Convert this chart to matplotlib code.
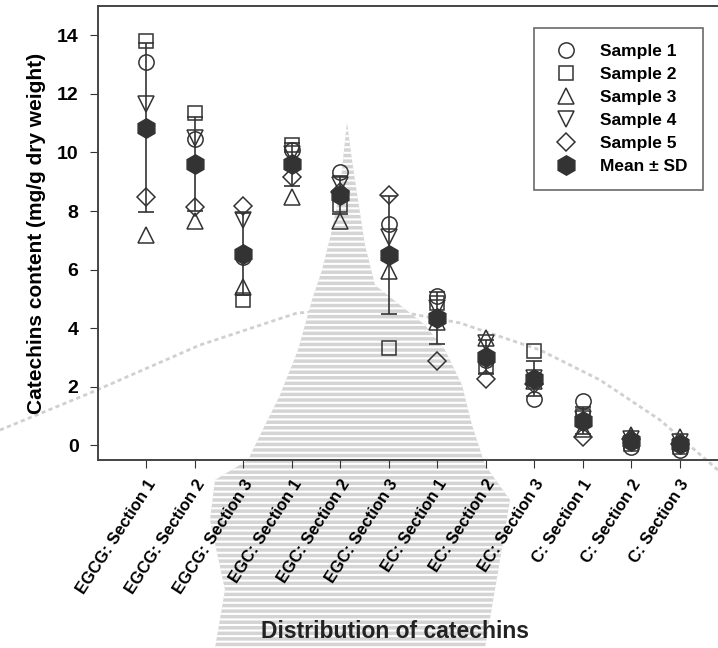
#!/usr/bin/env python3
"""Catechin content of five tea samples per catechin/section, with mean +/- SD."""

import numpy as np
import matplotlib
matplotlib.use("Agg")
import matplotlib.pyplot as plt
from matplotlib.patches import Polygon

plt.rcParams["font.family"] = ["Liberation Sans", "DejaVu Sans"]
plt.rcParams["font.weight"] = "bold"
plt.rcParams["hatch.linewidth"] = 1.5

categories = [
    "EGCG: Section 1", "EGCG: Section 2", "EGCG: Section 3",
    "EGC: Section 1", "EGC: Section 2", "EGC: Section 3",
    "EC: Section 1", "EC: Section 2", "EC: Section 3",
    "C: Section 1", "C: Section 2", "C: Section 3",
]

# mg/g dry weight
sample1 = [13.09, 10.45, 6.43, 10.10, 9.34, 7.56, 5.09, 2.90, 1.59, 1.51, -0.05, -0.15]
sample2 = [13.80, 11.33, 4.97, 10.25, 8.21, 3.33, 4.85, 2.70, 3.21, 1.00, 0.05, -0.05]
sample3 = [7.19, 7.66, 5.40, 8.49, 7.67, 5.94, 4.20, 3.67, 2.20, 0.55, 0.35, 0.30]
sample4 = [11.67, 10.49, 7.70, 9.95, 8.89, 7.13, 4.70, 3.50, 2.30, 0.90, 0.20, 0.10]
sample5 = [8.49, 8.15, 8.17, 9.17, 8.64, 8.55, 2.87, 2.25, 2.10, 0.27, 0.20, 0.05]

samples = np.array([sample1, sample2, sample3, sample4, sample5])
mean = samples.mean(axis=0)
sd = samples.std(axis=0, ddof=1)

ink = "#333333"
fig = plt.figure(figsize=(7.18, 6.48), dpi=100)

# faint grey backdrop drawn straight on the figure (pixel coordinates)
W, H = 718.0, 648.0
spire = [(347, 122), (352, 160), (358, 200), (365, 245), (375, 285), (400, 305),
         (425, 325), (445, 350), (462, 385), (472, 425), (485, 465), (510, 500),
         (500, 560), (485, 648), (215, 648), (225, 590), (210, 520), (215, 480),
         (248, 460), (265, 425), (280, 395), (298, 350), (312, 300), (322, 270),
         (332, 230), (340, 190), (344, 150)]
fig.patches.append(Polygon([(x / W, 1 - y / H) for x, y in spire], closed=True,
                           transform=fig.transFigure, facecolor="#d4d4d4",
                           edgecolor="white", linewidth=0, hatch="---", zorder=0))
arc_x = np.array([0, 90, 200, 297, 380, 460, 540, 600, 660, 718])
arc_y = np.array([430, 393, 345, 313, 308, 323, 350, 380, 420, 470])
fig.add_artist(plt.Line2D(arc_x / W, 1 - arc_y / H, transform=fig.transFigure,
                          color="#d0d0d0", lw=2.0, ls=(0, (1.5, 1.2)), zorder=0))

ax = fig.add_axes([98 / W, 1 - 460 / H, 630 / W, 454 / H])
ax.set_zorder(2)
ax.set_facecolor("none")
x = np.arange(1, len(categories) + 1)

markers = [("o", 11), ("s", 10), ("^", 11), ("v", 11), ("D", 9)]
for i, (m, ms) in enumerate(markers):
    ax.plot(x, samples[i], linestyle="none", marker=m, markersize=ms,
            markerfacecolor="none", markeredgecolor=ink, markeredgewidth=1.1,
            label=f"Sample {i + 1}", zorder=3)

ax.errorbar(x, mean, yerr=sd, fmt="none", ecolor=ink,
            elinewidth=1.2, capsize=6, capthick=1.2, zorder=4)
ax.plot(x, mean, linestyle="none", marker="h", markersize=14, color=ink,
        markeredgecolor=ink, label="Mean ± SD", zorder=5)

ax.set_xlim(0, 13)
ax.set_ylim(-0.5, 15)
ax.set_yticks(np.arange(0, 15, 2))
ax.set_xticks(x)
ax.set_xticklabels(categories, rotation=57, ha="right", va="top",
                   rotation_mode="anchor", fontsize=12, fontweight="bold")
ax.tick_params(axis="y", labelsize=14, direction="out", length=6, color=ink, pad=8)
ax.tick_params(axis="x", direction="out", length=6, color=ink, pad=6)
for lab in ax.get_yticklabels():
    lab.set_fontweight("bold")

for side in ("left", "bottom", "top"):
    ax.spines[side].set_color("#444444")
    ax.spines[side].set_linewidth(1.4)
ax.spines["right"].set_visible(False)

ax.set_ylabel("Catechins content (mg/g dry weight)", fontsize=15,
              fontweight="bold", labelpad=8)
fig.text(395 / W, 1 - 632 / H, "Distribution of catechins", fontsize=16.5,
         fontweight="bold", ha="center", va="center", color="#222222")

leg = ax.legend(loc="upper right",
                bbox_to_anchor=(703 / W, 1 - 28 / H), bbox_transform=fig.transFigure,
                prop={"weight": "bold", "size": 12.5}, frameon=True, fancybox=False,
                edgecolor="#444444", handlelength=1.9, handletextpad=1.0,
                labelspacing=0.46, borderpad=0.9, borderaxespad=0)
leg.get_frame().set_linewidth(1.2)

plt.savefig("out.png", dpi=100)
